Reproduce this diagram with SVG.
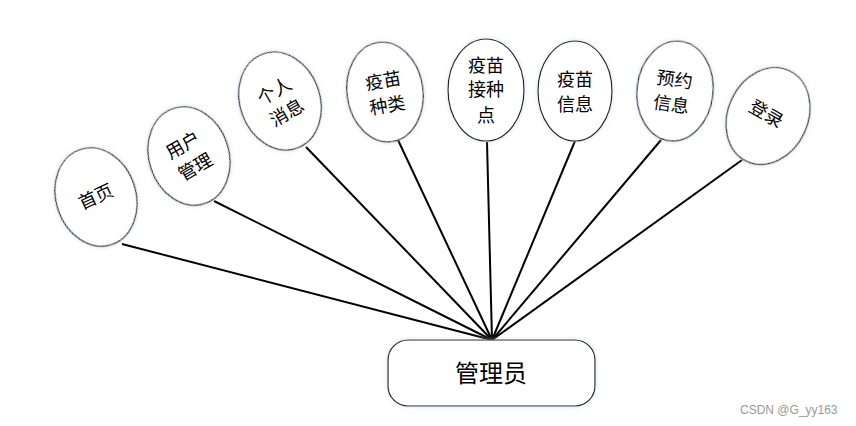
<svg xmlns="http://www.w3.org/2000/svg" width="856" height="426" viewBox="0 0 856 426">
<defs>
<style>
.n{fill:#fff;stroke:#222;stroke-width:1.2}
.t{font-family:"Noto Sans CJK SC","Noto Sans CJK JP",sans-serif;font-size:18px;fill:#000;text-anchor:middle}
.c line{stroke:#000;stroke-width:2}
.wm{font-family:"Liberation Sans",Arial,sans-serif;font-size:12px;fill:#999}
</style>
<filter id="sh" x="-20%" y="-20%" width="140%" height="140%">
<feGaussianBlur in="SourceAlpha" stdDeviation="2.5" result="b"/>
<feFlood flood-color="#b8cfe8" flood-opacity="0.6"/>
<feComposite in2="b" operator="in" result="s"/>
<feMerge><feMergeNode in="s"/><feMergeNode in="SourceGraphic"/></feMerge>
</filter>
</defs>
<rect width="856" height="426" fill="#fff"/>
<g class="c" id="connectors">
<line x1="122" y1="244" x2="492" y2="340"/>
<line x1="214" y1="201" x2="492" y2="340"/>
<line x1="306" y1="147" x2="492" y2="340"/>
<line x1="398" y1="140" x2="492" y2="340"/>
<line x1="487" y1="142" x2="492" y2="340"/>
<line x1="575" y1="141" x2="492" y2="340"/>
<line x1="661" y1="140" x2="492" y2="340"/>
<line x1="742" y1="160" x2="492" y2="340"/>
</g>
<g id="n1">
<ellipse class="n" filter="url(#sh)" cx="96" cy="197" rx="40" ry="50" transform="rotate(-18 96 197)"/>
<text class="t" transform="translate(96 197) rotate(-25)" y="6">首页</text>
</g>
<g id="n2">
<ellipse class="n" filter="url(#sh)" cx="189" cy="156" rx="40" ry="50" transform="rotate(-18 189 156)"/>
<text class="t" transform="translate(189 156) rotate(-30)"><tspan x="0" y="-6">用户</tspan><tspan x="0" y="19">管理</tspan></text>
</g>
<g id="n3">
<ellipse class="n" filter="url(#sh)" cx="280" cy="101" rx="40" ry="50" transform="rotate(-20 280 101)"/>
<text class="t" transform="translate(280 101) rotate(-30)"><tspan x="0" y="-5">个人</tspan><tspan x="0" y="20">消息</tspan></text>
</g>
<g id="n4">
<ellipse class="n" filter="url(#sh)" cx="385" cy="92" rx="38" ry="50" transform="rotate(-8 385 92)"/>
<text class="t" transform="translate(385 92) rotate(-10)"><tspan x="0" y="-5">疫苗</tspan><tspan x="0" y="20">种类</tspan></text>
</g>
<g id="n5">
<ellipse class="n" filter="url(#sh)" cx="486" cy="90" rx="38" ry="51"/>
<text class="t" transform="translate(486 90)"><tspan x="0" y="-18">疫苗</tspan><tspan x="0" y="6">接种</tspan><tspan x="0" y="32">点</tspan></text>
</g>
<g id="n6">
<ellipse class="n" filter="url(#sh)" cx="575" cy="91" rx="37" ry="50"/>
<text class="t" transform="translate(575 91)"><tspan x="0" y="-5">疫苗</tspan><tspan x="0" y="20">信息</tspan></text>
</g>
<g id="n7">
<ellipse class="n" filter="url(#sh)" cx="675" cy="91" rx="38" ry="50" transform="rotate(6 675 91)"/>
<text class="t" transform="translate(673 91) rotate(8)"><tspan x="0" y="-5">预约</tspan><tspan x="0" y="20">信息</tspan></text>
</g>
<g id="n8">
<ellipse class="n" filter="url(#sh)" cx="768" cy="116" rx="40" ry="50" transform="rotate(25 768 116)"/>
<text class="t" transform="translate(766 114) rotate(30)" y="6">登录</text>
</g>
<g id="admin">
<rect class="n" filter="url(#sh)" x="388" y="340" width="207" height="66" rx="20" ry="20"/>
<text class="t" style="font-size:24px" x="491" y="382">管理员</text>
</g>
<text class="wm" x="740" y="414">CSDN @G_yy163</text>
</svg>
